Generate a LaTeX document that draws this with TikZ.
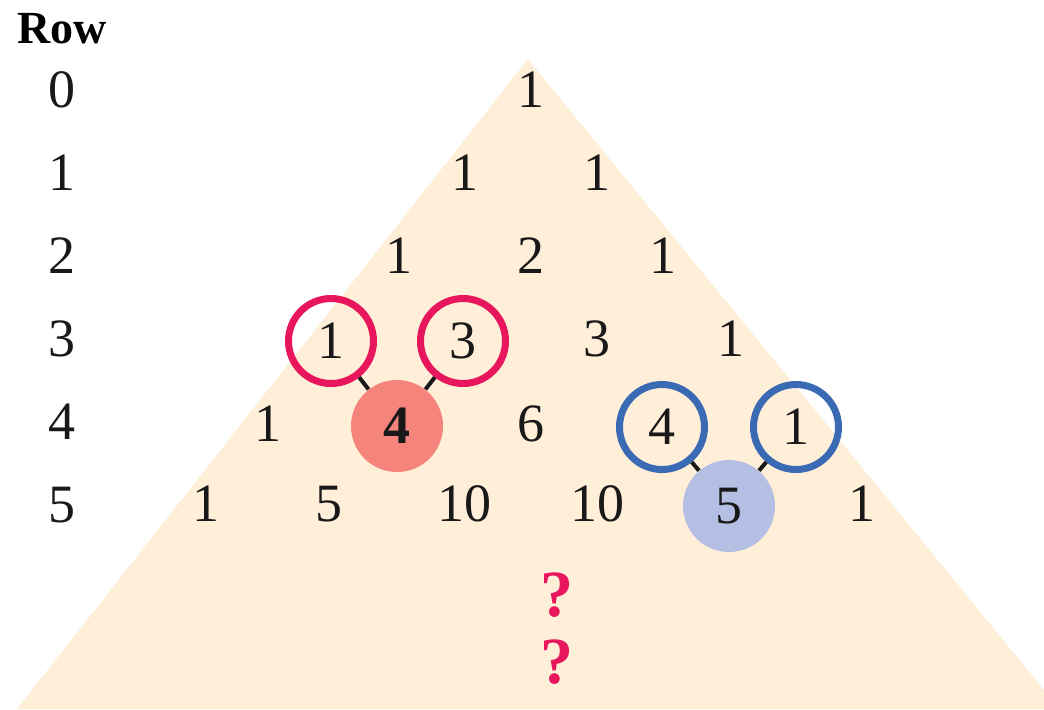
\documentclass[tikz,border=0pt]{standalone}
\usepackage{fontspec}
\setmainfont{Liberation Serif}
\definecolor{bgtri}{HTML}{FFEED8}
\definecolor{ringred}{HTML}{E8175D}
\definecolor{fillred}{HTML}{F4847C}
\definecolor{ringblue}{HTML}{3A6AB4}
\definecolor{fillblue}{HTML}{B4BFE3}
\definecolor{qmark}{HTML}{E8175D}
\tikzset{
  num/.style={inner sep=0pt, font=\fontsize{27}{30}\selectfont, text=black!90},
  rowhead/.style={inner sep=0pt, font=\fontsize{23}{26}\selectfont\bfseries},
  redring/.style={num, circle, draw=ringred, line width=3.5pt, minimum size=42.5pt},
  bluering/.style={num, circle, draw=ringblue, line width=3.5pt, minimum size=42.5pt},
  redfill/.style={num, circle, fill=fillred, minimum size=46pt, font=\fontsize{27}{30}\selectfont\bfseries},
  bluefill/.style={num, circle, fill=fillblue, minimum size=46pt},
  link/.style={draw=black!90, line width=2pt},
  qm/.style={inner sep=0pt, font=\fontsize{33}{36}\selectfont\bfseries, text=qmark}
}
\begin{document}
\begin{tikzpicture}[x=0.5pt, y=-0.5pt]
\useasboundingbox (0,0) rectangle (1044,709);
% background triangle
\fill[bgtri] (528,59) -- (17,709) -- (1044,709) -- (1044,690) -- cycle;
% row labels
\node[rowhead] (rowh) at (62,29) {Row};
\node[num] (r0) at (62,90) {0};
\node[num] (r1) at (62,173) {1};
\node[num] (r2) at (62,256) {2};
\node[num] (r3) at (62,339) {3};
\node[num] (r4) at (62,422) {4};
\node[num] (r5) at (62,505) {5};
% row 0
\node[num] (a00) at (531,90) {1};
% row 1
\node[num] (a10) at (465,173) {1};
\node[num] (a11) at (597,173) {1};
% row 2
\node[num] (a20) at (399,256) {1};
\node[num] (a21) at (531,256) {2};
\node[num] (a22) at (663,256) {1};
% row 3
\node[redring] (a30) at (331,341) {1};
\node[redring] (a31) at (463,341) {3};
\node[num] (a32) at (597,339) {3};
\node[num] (a33) at (731,339) {1};
% row 4
\node[num] (a40) at (268,424) {1};
\node[redfill] (a41) at (397,426) {4};
\node[num] (a42) at (531,424) {6};
\node[bluering] (a43) at (662,427) {4};
\node[bluering] (a44) at (796,427) {1};
% row 5
\node[num] (a50) at (206,504) {1};
\node[num] (a51) at (329,504) {5};
\node[num] (a52) at (464,504) {10};
\node[num] (a53) at (597,504) {10};
\node[bluefill] (a54) at (729,506) {5};
\node[num] (a55) at (862,504) {1};
% connectors
\draw[link] (a30) -- (a41);
\draw[link] (a31) -- (a41);
\draw[link] (a43) -- (a54);
\draw[link] (a44) -- (a54);
% question marks
\node[qm] (q1) at (557,595) {?};
\node[qm] (q2) at (557,662) {?};
\end{tikzpicture}
\end{document}
